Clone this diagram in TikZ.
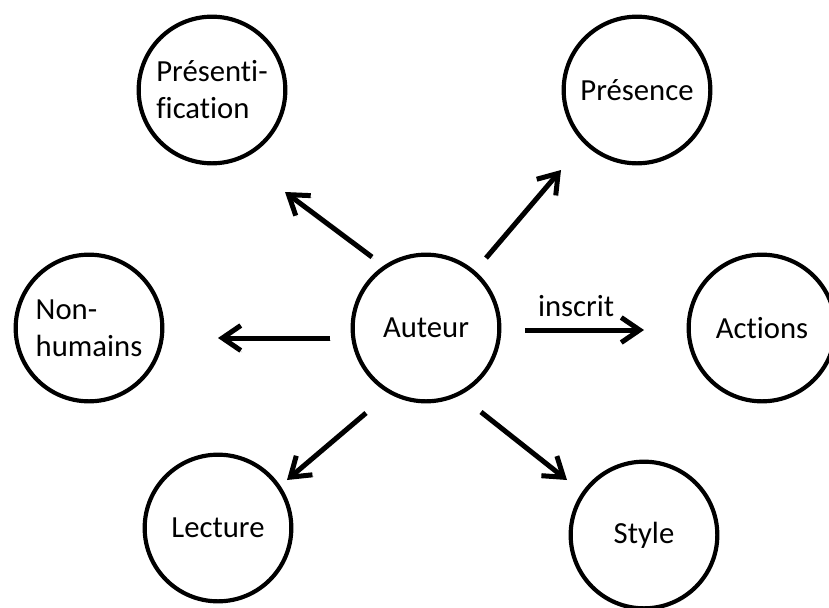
\documentclass[tikz,border=0pt]{standalone}
\usepackage{fontspec}
\setmainfont{Carlito}[Ligatures=NoCommon]
\usetikzlibrary{arrows.meta}
\tikzset{
  bulle/.style={draw, circle, line width=0.125cm, minimum size=4.4cm, inner sep=0pt, align=left, font=\fontsize{26.2}{31.5}\selectfont},
  fleche/.style={line width=0.15cm, -{Straight Barb[length=0.55cm, width=0.75cm]},
    preaction={draw=black!22, transform canvas={xshift=1.2pt, yshift=-1.5pt}}},
  etiquette/.style={font=\fontsize{26.2}{31.5}\selectfont}
}
\begin{document}
\begin{tikzpicture}[x=0.03cm, y=-0.03cm]
    \useasboundingbox (0, 0) rectangle (829, 608) ;
    \node[bulle] (auteur) at (426, 328) {Auteur} ;
    \node[bulle] (presentif) at (212, 90) {Présenti-\\fication} ;
    \node[bulle] (presence) at (637, 90) {Présence} ;
    \node[bulle] (nonhum) at (89, 328) {Non-\\humains} ;
    \node[bulle] (actions) at (762, 328) {Actions} ;
    \node[bulle] (lecture) at (218, 528) {Lecture} ;
    \node[bulle] (style) at (644, 535) {Style} ;
    \coordinate (d1) at (372, 257) ; \coordinate (f1) at (285, 192) ;
    \coordinate (d2) at (486, 258) ; \coordinate (f2) at (561, 170) ;
    \coordinate (d3) at (330, 338) ; \coordinate (f3) at (218, 338) ;
    \coordinate (d4) at (525, 330) ; \coordinate (f4) at (644, 330) ;
    \coordinate (d5) at (366, 413) ; \coordinate (f5) at (287, 480) ;
    \coordinate (d6) at (481, 412) ; \coordinate (f6) at (567, 480) ;
    \draw[fleche] (d1) -- (f1) ;
    \draw[fleche] (d2) -- (f2) ;
    \draw[fleche] (d3) -- (f3) ;
    \draw[fleche] (d4) -- node[etiquette, above=0.22cm, pos=0.43] (inscrit) {inscrit} (f4) ;
    \draw[fleche] (d5) -- (f5) ;
    \draw[fleche] (d6) -- (f6) ;
  \end{tikzpicture}
\end{document}
